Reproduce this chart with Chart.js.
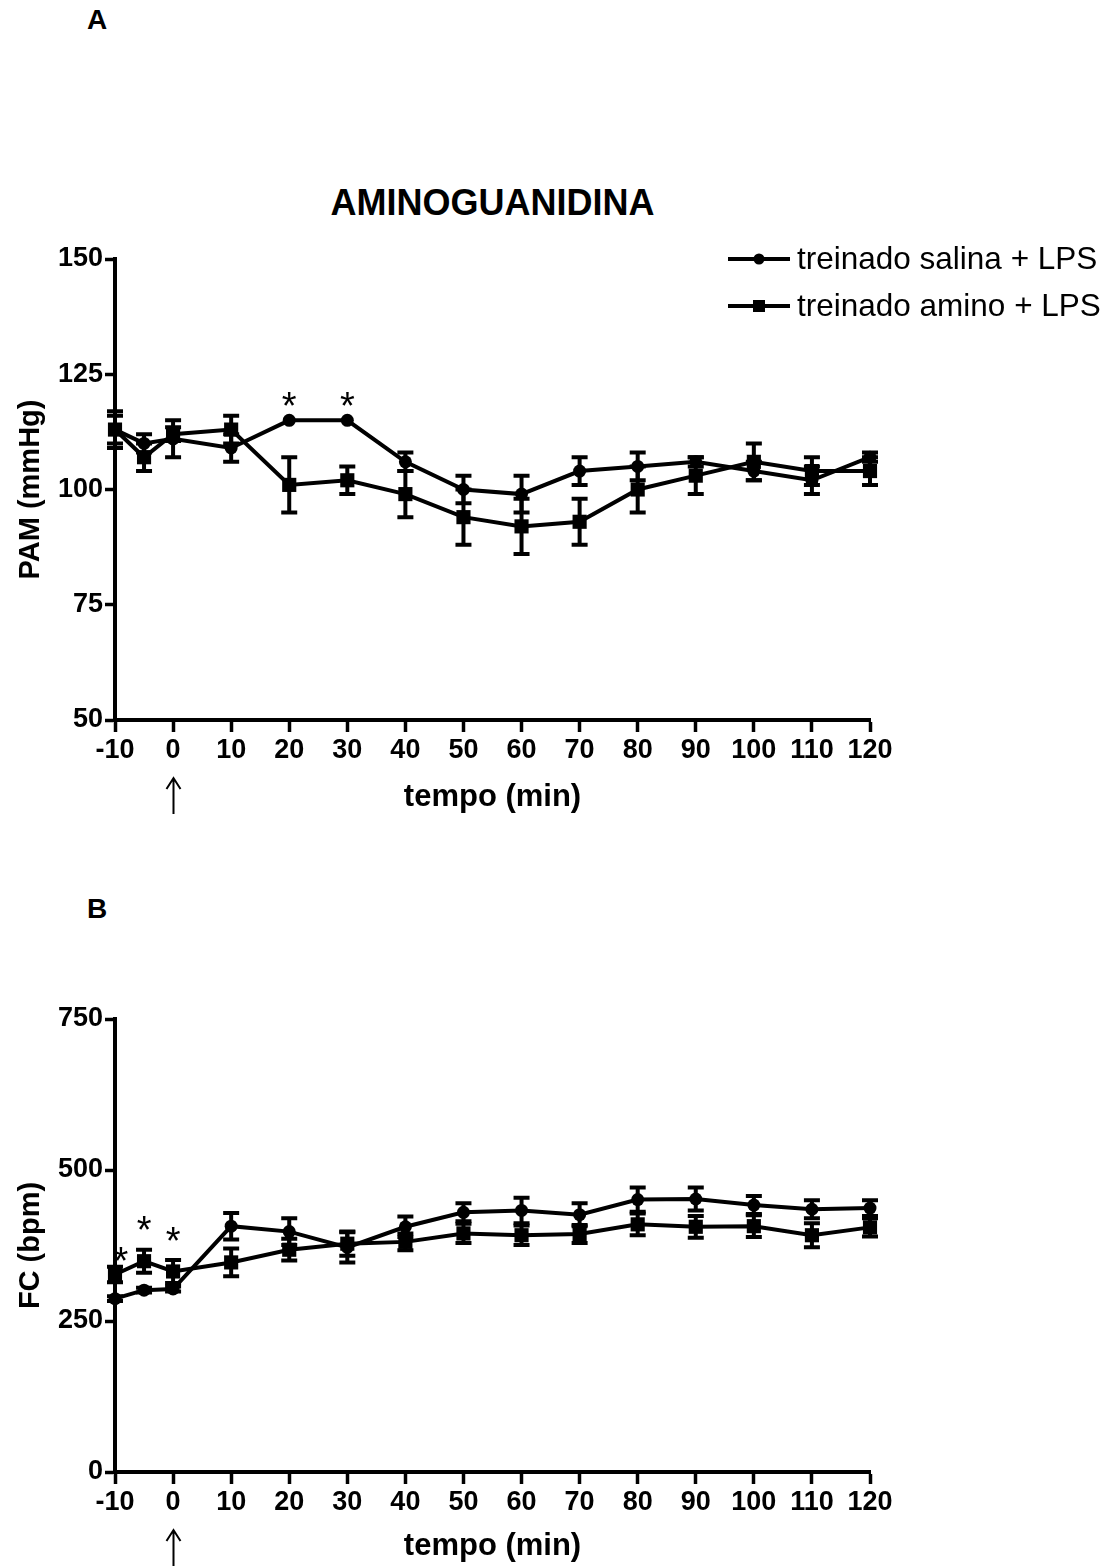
<!DOCTYPE html>
<html>
<head>
<meta charset="utf-8">
<script src="https://cdn.jsdelivr.net/npm/chart.js@4.4.0/dist/chart.umd.min.js"></script>
<style>
  body { margin: 0; background: #fff; width: 1107px; height: 1566px; position: relative; overflow: hidden; font-family: 'Liberation Sans', Arial, sans-serif; }
  canvas { position: absolute; left: 0; }
  .lbl { position: absolute; font-weight: bold; color: #000; white-space: nowrap; }
</style>
</head>
<body>
<div class="lbl" style="left:87px; top:4px; font-size:28px; line-height:32px;">A</div>
<div class="lbl" style="left:0; width:985px; text-align:center; top:182px; font-size:36px; line-height:42px;">AMINOGUANIDINA</div>
<div class="lbl" style="left:87px; top:893px; font-size:28px; line-height:32px;">B</div>
<canvas id="pam" width="1107" height="830" style="top:0"></canvas>
<canvas id="fc" width="1107" height="736" style="top:830px"></canvas>
<script>
// tempos (min)
const tempo = [-10, -5, 0, 10, 20, 30, 40, 50, 60, 70, 80, 90, 100, 110, 120];
const ticksTempo = [-10, 0, 10, 20, 30, 40, 50, 60, 70, 80, 90, 100, 110, 120];

// PAM (mmHg) - media e EPM
const pamSalina = [113, 110, 111, 109, 115, 115, 106, 100, 99, 104, 105, 106, 104, 102, 107];
const pamSalinaEpm = [4, 2, 4, 3, 0, 0, 2, 3, 4, 3, 3, 1, 2, 3, 1];
const pamAmino = [113, 107, 112, 113, 101, 102, 99, 94, 92, 93, 100, 103, 106, 104, 104];
const pamAminoEpm = [3, 3, 1.5, 3, 6, 3, 5, 6, 6, 5, 5, 4, 4, 3, 3];
const ticksPam = [50, 75, 100, 125, 150];
const asteriscoPamX = [20, 30];
const asteriscoPamY = [120, 120];

// FC (bpm) - media e EPM
const fcSalina = [287, 301, 303, 407, 398, 372, 406, 430, 433, 426, 451, 452, 442, 435, 437];
const fcSalinaEpm = [4, 4, 4, 22, 22, 25, 17, 15, 21, 19, 20, 19, 15, 15, 13];
const fcAmino = [327, 349, 332, 347, 368, 378, 381, 395, 392, 394, 410, 406, 407, 392, 405];
const fcAminoEpm = [13, 19, 19, 23, 18, 20, 14, 16, 16, 15, 18, 18, 18, 20, 15];
const ticksFc = [0, 250, 500, 750];
const asteriscoFcX = [-9, -5, 0];
const asteriscoFcY = [365, 415, 398];

const legendas = ['treinado salina + LPS', 'treinado amino + LPS'];
const fonte = "'Liberation Sans', Arial, sans-serif";

// barras de erro (EPM) desenhadas com as escalas do grafico
const barrasErro = {
    id: 'barrasErro',
    beforeDatasetsDraw(chart, args, opts) {
        const { ctx, scales: { x, y } } = chart;
        ctx.save();
        ctx.strokeStyle = '#000';
        ctx.lineWidth = 4;
        chart.data.datasets.forEach((ds, d) => {
            opts.epm[d].forEach((e, i) => {
                if (!e) return;
                const px = x.getPixelForValue(ds.data[i].x);
                const top = y.getPixelForValue(ds.data[i].y + e);
                const bot = y.getPixelForValue(ds.data[i].y - e);
                ctx.beginPath();
                ctx.moveTo(px, top); ctx.lineTo(px, bot);
                ctx.moveTo(px - 8, top); ctx.lineTo(px + 8, top);
                ctx.moveTo(px - 8, bot); ctx.lineTo(px + 8, bot);
                ctx.stroke();
            });
        });
        ctx.restore();
    }
};

// asteriscos, seta e legenda
const extras = {
    id: 'extras',
    afterDraw(chart, args, opts) {
        const { ctx, chartArea, scales: { x, y } } = chart;
        ctx.save();
        ctx.fillStyle = '#000';
        ctx.strokeStyle = '#000';
        ctx.font = '38px ' + fonte;
        ctx.textAlign = 'center';
        ctx.textBaseline = 'alphabetic';
        opts.astX.forEach((v, i) => {
            ctx.fillText('*', x.getPixelForValue(v), y.getPixelForValue(opts.astY[i]) + 22);
        });
        // seta no tempo 0
        const sx = Math.round(x.getPixelForValue(0)) + 0.5;
        const y0 = chartArea.bottom + 58, y1 = chartArea.bottom + 94;
        ctx.lineWidth = 2;
        ctx.beginPath();
        ctx.moveTo(sx, y0); ctx.lineTo(sx, y1);
        ctx.moveTo(sx - 7, y0 + 11); ctx.lineTo(sx, y0); ctx.lineTo(sx + 7, y0 + 11);
        ctx.stroke();
        if (opts.legenda) {
            ctx.font = '31.5px ' + fonte;
            ctx.textAlign = 'left';
            ctx.textBaseline = 'middle';
            legendas.forEach((txt, i) => {
                const ly = 259 + i * 47;
                ctx.lineWidth = 4;
                ctx.beginPath();
                ctx.moveTo(728, ly); ctx.lineTo(790, ly);
                ctx.stroke();
                ctx.beginPath();
                if (i === 0) ctx.arc(759, ly, 5.5, 0, Math.PI * 2);
                else ctx.rect(753, ly - 6, 12, 12);
                ctx.fill();
                ctx.fillText(txt, 797, ly + 1);
            });
        }
        ctx.restore();
    }
};

function serie(valores, estilo, raio) {
    return {
        data: tempo.map((t, i) => ({ x: t, y: valores[i] })),
        borderColor: '#000',
        backgroundColor: '#000',
        borderWidth: 4,
        pointStyle: estilo,
        pointRadius: raio,
        pointBorderWidth: 0,
        pointBackgroundColor: '#000',
        tension: 0,
        clip: false
    };
}

function criarGrafico(id, salina, salinaEpm, amino, aminoEpm, yTicks, titulo, padTop, alturaX, padTitulo, astX, astY, legenda) {
    const tickFont = { family: fonte, size: 27, weight: 'bold' };
    const yTitleFont = { family: fonte, size: 29, weight: 'bold' };
    const xTitleFont = { family: fonte, size: 31, weight: 'bold' };
    return new Chart(document.getElementById(id), {
        type: 'line',
        data: { datasets: [serie(salina, 'circle', 6.5), serie(amino, 'rect', 10)] },
        options: {
            responsive: false,
            animation: false,
            events: [],
            layout: { padding: { top: padTop, right: 237, bottom: 0, left: 0 } },
            plugins: {
                legend: { display: false },
                tooltip: { enabled: false },
                barrasErro: { epm: [salinaEpm, aminoEpm] },
                extras: { astX: astX, astY: astY, legenda: legenda }
            },
            scales: {
                x: {
                    type: 'linear',
                    min: ticksTempo[0],
                    max: ticksTempo[ticksTempo.length - 1],
                    afterBuildTicks: s => { s.ticks = ticksTempo.map(v => ({ value: v })); },
                    afterFit: s => { s.height = alturaX; },
                    ticks: { color: '#000', font: tickFont, padding: 2, maxRotation: 0, autoSkip: false },
                    grid: { display: true, drawOnChartArea: false, tickLength: 12, tickWidth: 3.5, tickColor: '#000' },
                    border: { display: true, width: 4, color: '#000' },
                    title: { display: true, text: 'tempo (min)', color: '#000', font: xTitleFont, padding: { top: 0, bottom: padTitulo } }
                },
                y: {
                    min: yTicks[0],
                    max: yTicks[yTicks.length - 1],
                    afterBuildTicks: s => { s.ticks = yTicks.map(v => ({ value: v })); },
                    afterFit: s => { s.width = 115; },
                    ticks: { color: '#000', font: tickFont, padding: 2 },
                    grid: { display: true, drawOnChartArea: false, tickLength: 10, tickWidth: 3.5, tickColor: '#000' },
                    border: { display: true, width: 4, color: '#000' },
                    title: { display: true, text: titulo, color: '#000', font: yTitleFont, padding: { top: 14, bottom: 0 } }
                }
            }
        },
        plugins: [barrasErro, extras]
    });
}

criarGrafico('pam', pamSalina, pamSalinaEpm, pamAmino, pamAminoEpm, ticksPam, 'PAM (mmHg)', 259, 110, 14, asteriscoPamX, asteriscoPamY, true);
criarGrafico('fc', fcSalina, fcSalinaEpm, fcAmino, fcAminoEpm, ticksFc, 'FC (bpm)', 189, 94, 1, asteriscoFcX, asteriscoFcY, false);
</script>
</body>
</html>
